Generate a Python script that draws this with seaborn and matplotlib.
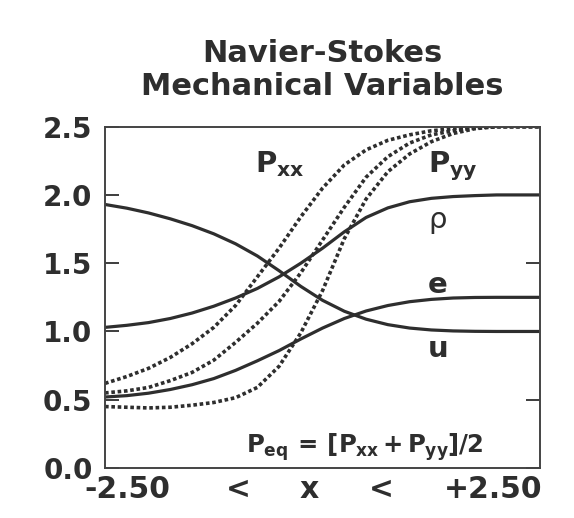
import numpy as np
import pandas as pd
import matplotlib
matplotlib.use("Agg")
import matplotlib.pyplot as plt
import seaborn as sns

# x positions across the shock (-2.5 .. 2.5)
x = [-2.5, -2.25, -2.0, -1.75, -1.5, -1.25, -1.0, -0.75, -0.5, -0.25, 0.0,
     0.25, 0.5, 0.75, 1.0, 1.25, 1.5, 1.75, 2.0, 2.25, 2.5]

# solid curves
rho = [1.03, 1.045, 1.065, 1.095, 1.135, 1.185, 1.245, 1.315, 1.40, 1.50, 1.61,
       1.73, 1.835, 1.905, 1.95, 1.975, 1.988, 1.995, 2.0, 2.0, 2.0]
u = [1.93, 1.903, 1.868, 1.825, 1.775, 1.715, 1.642, 1.553, 1.445, 1.33, 1.228,
     1.148, 1.09, 1.05, 1.025, 1.011, 1.004, 1.001, 1.0, 1.0, 1.0]
e = [0.52, 0.53, 0.548, 0.575, 0.61, 0.655, 0.715, 0.785, 0.86, 0.945, 1.025,
     1.095, 1.15, 1.19, 1.218, 1.235, 1.245, 1.249, 1.25, 1.25, 1.25]

# dashed pressure-tensor curves
pxx = [0.62, 0.67, 0.73, 0.81, 0.91, 1.03, 1.19, 1.40, 1.61, 1.84, 2.05,
       2.22, 2.33, 2.40, 2.44, 2.47, 2.485, 2.495, 2.5, 2.5, 2.5]
peq = [0.55, 0.565, 0.59, 0.64, 0.70, 0.79, 0.92, 1.06, 1.22, 1.43, 1.67,
       1.91, 2.13, 2.28, 2.38, 2.44, 2.47, 2.49, 2.5, 2.5, 2.5]
pyy = [0.45, 0.445, 0.44, 0.445, 0.46, 0.48, 0.515, 0.59, 0.745, 0.99, 1.30,
       1.68, 1.97, 2.17, 2.30, 2.39, 2.45, 2.485, 2.5, 2.5, 2.5]

yticks = [0.0, 0.5, 1.0, 1.5, 2.0, 2.5]

sns.set_style("ticks")
plt.rcParams['font.family'] = ['DejaVu Sans']
plt.rcParams['mathtext.fontset'] = 'custom'
plt.rcParams['mathtext.rm'] = 'DejaVu Sans:bold'
plt.rcParams['mathtext.it'] = 'DejaVu Sans:bold'
plt.rcParams['mathtext.bf'] = 'DejaVu Sans:bold'

ink = "#2e2e2e"

fig = plt.figure(figsize=(5.74, 5.18), dpi=100)
ax = fig.add_axes([0.183, 0.0965, 0.758, 0.659])

for vals in [rho, u, e]:
    sns.lineplot(x=x, y=vals, ax=ax, color=ink, lw=2.3)
for vals in [pxx, peq, pyy]:
    sns.lineplot(x=x, y=vals, ax=ax, color=ink, lw=2.6, linestyle=(0, (1.0, 0.75)))

ax.set_xlim(-2.5, 2.5)
ax.set_ylim(0, 2.5)
ax.set_xticks([])
ax.set_yticks(yticks)
ax.set_yticklabels([f"{v:.1f}" for v in yticks], fontsize=20, fontweight="bold", color=ink)
ax.tick_params(axis="y", direction="in", length=10, width=1.3, right=True, left=True,
               color=ink, pad=9)
for s in ax.spines.values():
    s.set_linewidth(1.4)
    s.set_color("#444444")

# x range label, pieces placed along the bottom
xl_parts = ["-2.50", "<", "x", "<", "+2.50"]
xl_pos = [0.051, 0.306, 0.469, 0.634, 0.892]
for txt, pos in zip(xl_parts, xl_pos):
    ax.text(pos, -0.088, txt, transform=ax.transAxes, fontsize=21.5, fontweight="bold",
            ha="center", va="baseline", color=ink)

ax.set_title("Navier-Stokes\nMechanical Variables", fontsize=22, fontweight="bold",
             color=ink, linespacing=1.15, pad=23)

ax.text(-0.78, 2.17, r"$P_{xx}$", fontsize=21, ha="left", va="baseline", color=ink)
ax.text(1.21, 2.17, r"$P_{yy}$", fontsize=21, ha="left", va="baseline", color=ink)
ax.text(1.21, 1.76, "ρ", fontsize=21, ha="left", va="baseline", color=ink)
ax.text(1.21, 1.28, "e", fontsize=21, fontweight="bold", ha="left", va="baseline", color=ink)
ax.text(1.21, 0.81, "u", fontsize=21, fontweight="bold", ha="left", va="baseline", color=ink)
ax.text(-0.88, 0.11, r"$P_{eq}\,{=}\,[P_{xx}\,{+}\,P_{yy}]/2$", fontsize=17.5, ha="left",
        va="baseline", color=ink)

plt.savefig("out.png", dpi=100)
